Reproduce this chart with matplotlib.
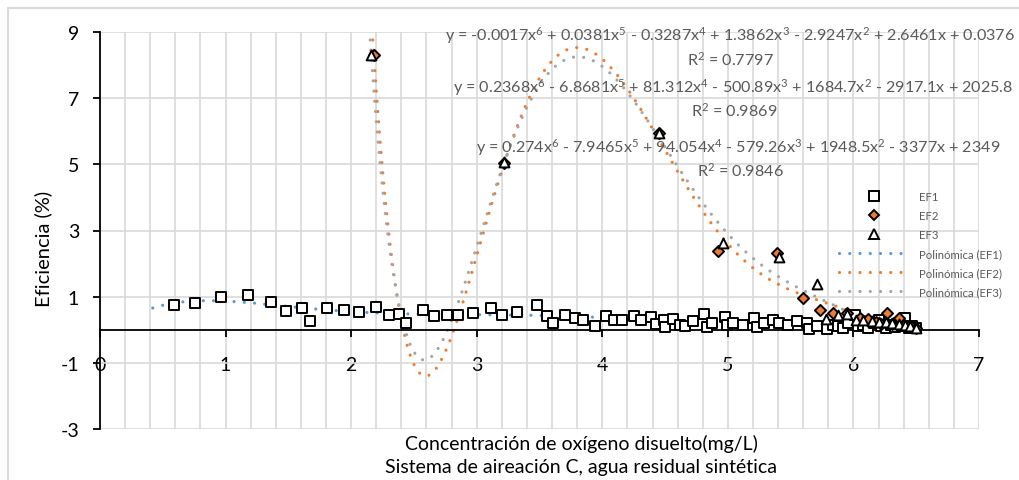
import matplotlib
matplotlib.use("Agg")
import matplotlib.pyplot as plt
from matplotlib.ticker import MultipleLocator
from matplotlib.lines import Line2D
from matplotlib.patches import Rectangle
import numpy as np

plt.rcParams['font.family'] = ['Lato', 'DejaVu Sans']
plt.rcParams['mathtext.fontset'] = 'custom'
plt.rcParams['mathtext.rm'] = 'Lato'
plt.rcParams['mathtext.default'] = 'regular'
plt.rcParams['axes.unicode_minus'] = False

# datos
ef1_x = [0.59, 0.76, 0.96, 1.18, 1.36, 1.48, 1.61, 1.67, 1.81, 1.94, 2.06, 2.20, 2.30, 2.38,
         2.44, 2.57, 2.66, 2.76, 2.85, 2.97, 3.11, 3.20, 3.32, 3.48, 3.56, 3.61, 3.70, 3.78,
         3.85, 3.94, 4.03, 4.09, 4.16, 4.25, 4.31, 4.39, 4.43, 4.49, 4.50, 4.56, 4.62, 4.66,
         4.72, 4.81, 4.83, 4.87, 4.98, 4.99, 5.04, 5.12, 5.21, 5.23, 5.29, 5.36, 5.41, 5.48,
         5.55, 5.63, 5.65, 5.71, 5.79, 5.84, 5.88, 5.92, 5.96, 6.01, 6.04, 6.08, 6.12, 6.16,
         6.20, 6.22, 6.26, 6.30, 6.33, 6.36, 6.39, 6.41, 6.44, 6.47, 6.50]
ef1_y = [0.76, 0.81, 0.98, 1.04, 0.85, 0.57, 0.66, 0.25, 0.67, 0.60, 0.54, 0.70, 0.44, 0.48,
         0.21, 0.60, 0.41, 0.45, 0.46, 0.52, 0.67, 0.46, 0.54, 0.76, 0.42, 0.20, 0.44, 0.37,
         0.28, 0.12, 0.41, 0.30, 0.29, 0.43, 0.30, 0.38, 0.17, 0.28, 0.08, 0.32, 0.15, 0.10,
         0.25, 0.47, 0.08, 0.20, 0.40, 0.15, 0.20, 0.15, 0.35, 0.08, 0.20, 0.30, 0.20, 0.15,
         0.25, 0.20, 0.02, 0.10, 0.02, 0.15, 0.10, 0.05, 0.20, 0.45, 0.10, 0.15, 0.05, 0.20,
         0.30, 0.10, 0.05, 0.15, 0.08, 0.20, 0.10, 0.35, 0.05, 0.10, 0.05]

ef2_x = [2.18, 3.22, 4.45, 4.92, 5.39, 5.60, 5.73, 5.84, 5.95, 6.05, 6.12, 6.18, 6.22, 6.27,
         6.31, 6.36, 6.40, 6.44, 6.47, 6.50]
ef2_y = [8.30, 5.03, 5.94, 2.372, 2.334, 0.956, 0.582, 0.516, 0.517, 0.365, 0.338, 0.236, 0.187,
         0.496, 0.180, 0.346, 0.146, 0.108, 0.077, 0.05]

ef3_x = [2.16, 3.22, 4.45, 4.96, 5.41, 5.71, 5.78, 5.88, 5.95, 6.02, 6.08, 6.15, 6.20, 6.26,
         6.31, 6.36, 6.41, 6.45, 6.50]
ef3_y = [8.30, 5.06, 5.94, 2.625, 2.208, 1.379, 0.328, 0.432, 0.482, 0.308, 0.284, 0.265, 0.234,
         0.222, 0.208, 0.184, 0.145, 0.106, 0.04]

ecuaciones = [
    'y = -0.0017x$^6$ + 0.0381x$^5$ - 0.3287x$^4$ + 1.3862x$^3$ - 2.9247x$^2$ + 2.6461x + 0.0376',
    'y = 0.2368x$^6$ - 6.8681x$^5$ + 81.312x$^4$ - 500.89x$^3$ + 1684.7x$^2$ - 2917.1x + 2025.8',
    'y = 0.274x$^6$ - 7.9465x$^5$ + 94.054x$^4$ - 579.26x$^3$ + 1948.5x$^2$ - 3377x + 2349',
]
r2 = ['R$^2$ = 0.7797', 'R$^2$ = 0.9869', 'R$^2$ = 0.9846']
inicio_tendencia = [0.42, 2.12, 2.12]

c_azul = '#5B9BD5'
c_naranja = '#ED7D31'
c_gris = '#A5A5A5'
gris_txt = '#595959'

fig = plt.figure(figsize=(10.2, 4.81), dpi=100)
fig.patches.append(Rectangle((8/1020, -0.1), 1.2, 1 - 9/481 + 0.1, transform=fig.transFigure,
                             fill=False, edgecolor='#d9d9d9', linewidth=1.5))
ax = fig.add_axes([100/1020, 1 - 430/481, 879/1020, 397/481])

ax.set_xlim(0, 7)
ax.set_ylim(-3, 9)
ax.xaxis.set_major_locator(MultipleLocator(1))
ax.xaxis.set_minor_locator(MultipleLocator(0.2))
ax.set_yticks([-3, -1, 1, 3, 5, 7, 9])
ax.grid(True, which='both', axis='x', color='#d9d9d9', linewidth=1.2)
ax.grid(True, which='major', axis='y', color='#d9d9d9', linewidth=1.2)
ax.set_axisbelow(True)

ax.spines['top'].set_visible(False)
ax.spines['right'].set_visible(False)
ax.spines['bottom'].set_position(('data', 0))
for s in ['left', 'bottom']:
    ax.spines[s].set_linewidth(1.3)
    ax.spines[s].set_color('black')
ax.tick_params(axis='x', which='major', direction='out', length=5, width=1.3, pad=14, labelsize=14)
ax.tick_params(axis='x', which='minor', length=0)
ax.tick_params(axis='y', which='major', direction='out', length=5, width=1.3, pad=10, labelsize=14)

# lineas de tendencia polinomicas de grado 6
estilo_punto = (0, (0.01, 3.2))
series = [(ef1_x, ef1_y, c_azul), (ef2_x, ef2_y, c_naranja), (ef3_x, ef3_y, c_gris)]
for i, (xs, ys, col) in enumerate(series):
    coef = np.polyfit(xs, ys, 6)
    xx = np.linspace(inicio_tendencia[i], max(xs), 400)
    ax.plot(xx, np.polyval(coef, xx), color=col, linewidth=2.3, linestyle=estilo_punto,
            dash_capstyle='round', zorder=2)

ax.scatter(ef1_x, ef1_y, marker='s', s=55, facecolor='white', edgecolor='black', linewidth=1.4, zorder=3)
ax.scatter(ef2_x, ef2_y, marker='D', s=32, facecolor=c_naranja, edgecolor='black', linewidth=1.4, zorder=4)
ax.scatter(ef3_x, ef3_y, marker='^', s=50, facecolor='white', edgecolor='black', linewidth=1.4, zorder=4)

# ecuaciones de las lineas de tendencia
pos_ec = [(730, 36), (733, 88), (738, 148)]
pos_r2 = [(730, 60), (734, 111), (740, 171)]
for i in range(3):
    fig.text(pos_ec[i][0]/1020, 1 - pos_ec[i][1]/481, ecuaciones[i], ha='center', va='center',
             fontsize=11.6, color=gris_txt)
    fig.text(pos_r2[i][0]/1020, 1 - pos_r2[i][1]/481, r2[i], ha='center', va='center',
             fontsize=11.6, color=gris_txt)

handles = [
    Line2D([], [], linestyle='none', marker='s', markersize=7, markerfacecolor='white',
           markeredgecolor='black', markeredgewidth=1.4),
    Line2D([], [], linestyle='none', marker='D', markersize=5.5, markerfacecolor=c_naranja,
           markeredgecolor='black', markeredgewidth=1.4),
    Line2D([], [], linestyle='none', marker='^', markersize=7, markerfacecolor='white',
           markeredgecolor='black', markeredgewidth=1.4),
    Line2D([], [], color=c_azul, linewidth=2.3, linestyle=estilo_punto, dash_capstyle='round'),
    Line2D([], [], color=c_naranja, linewidth=2.3, linestyle=estilo_punto, dash_capstyle='round'),
    Line2D([], [], color=c_gris, linewidth=2.3, linestyle=estilo_punto, dash_capstyle='round'),
]
etiquetas = ['EF1', 'EF2', 'EF3', 'Polinómica (EF1)', 'Polinómica (EF2)', 'Polinómica (EF3)']
fig.legend(handles, etiquetas, loc='upper left', bbox_to_anchor=(839/1020, 1 - 192/481),
           frameon=False, fontsize=8.2, labelcolor=gris_txt, handlelength=6.1, handletextpad=0.9,
           labelspacing=0.7, borderpad=0, borderaxespad=0)

fig.text(43/1020, 1 - 249/481, 'Eficiencia (%)', rotation=90, ha='center', va='center', fontsize=14.5)
fig.text(581/1020, 1 - 444/481, 'Concentración de oxígeno disuelto(mg/L)', ha='center', va='center', fontsize=14)
fig.text(581/1020, 1 - 468/481, 'Sistema de aireación C, agua residual sintética', ha='center', va='center', fontsize=14)

fig.savefig('out.png', dpi=100)
